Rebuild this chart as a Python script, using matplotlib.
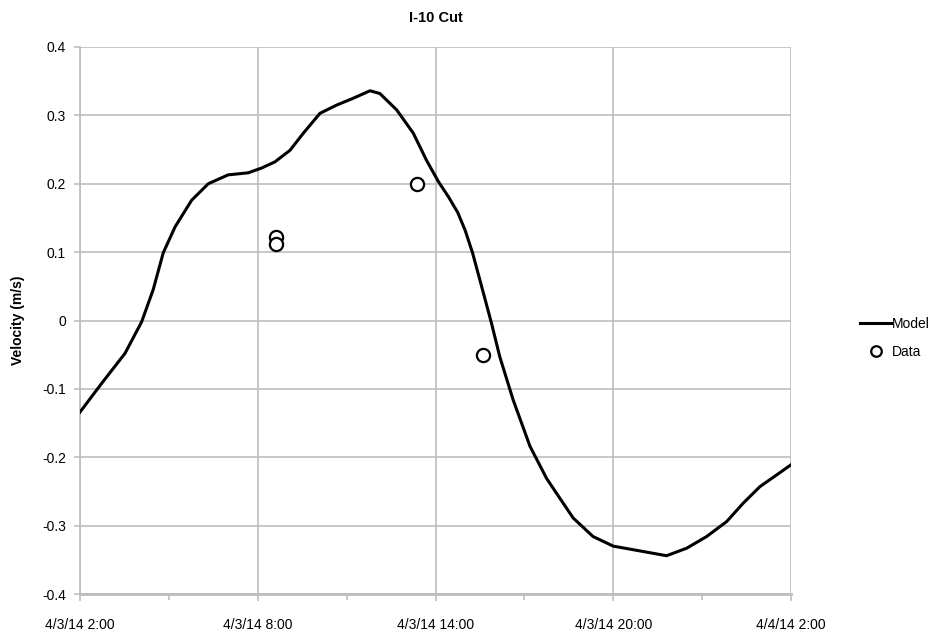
import matplotlib
matplotlib.use("Agg")
import matplotlib.pyplot as plt
import numpy as np
import pandas as pd

plt.rcParams['font.family'] = ['Liberation Sans', 'DejaVu Sans']

# Модель: часы от 4/3/14 2:00 и скорость (м/с)
model_hours = [0.00, 0.73, 1.52, 2.08, 2.47, 2.81, 3.21, 3.77, 4.33, 5.00,
               5.68, 6.13, 6.58, 7.09, 7.54, 8.10, 8.66, 9.22, 9.79, 10.12,
               10.69, 11.25, 11.70, 12.10, 12.45, 12.75, 13.00, 13.25, 13.50, 13.89,
               14.17, 14.62, 15.19, 15.75, 16.09, 16.65, 17.32, 18.00, 18.90, 19.80,
               20.48, 21.15, 21.83, 22.39, 22.95, 23.51, 24.00]
model_vel = [-0.134, -0.092, -0.048, -0.002, 0.045, 0.099, 0.137, 0.176, 0.200, 0.213,
             0.216, 0.223, 0.232, 0.249, 0.274, 0.303, 0.315, 0.325, 0.336, 0.332,
             0.308, 0.274, 0.234, 0.203, 0.180, 0.158, 0.132, 0.099, 0.059, -0.004,
             -0.053, -0.116, -0.184, -0.231, -0.253, -0.289, -0.316, -0.330, -0.337, -0.344,
             -0.333, -0.316, -0.294, -0.267, -0.243, -0.226, -0.211]

# Измерения
data_hours = [6.61, 6.61, 11.36, 13.61]
data_vel = [0.122, 0.112, 0.200, -0.050]

x_ticks = [0, 6, 12, 18, 24]
x_labels = ['4/3/14 2:00', '4/3/14 8:00', '4/3/14 14:00', '4/3/14 20:00', '4/4/14 2:00']
y_ticks = [0.4, 0.3, 0.2, 0.1, 0, -0.1, -0.2, -0.3, -0.4]
y_labels = ['0.4', '0.3', '0.2', '0.1', '0', '-0.1', '-0.2', '-0.3', '-0.4']

start = pd.Timestamp('2014-04-03 02:00')
to_time = lambda h: start + pd.to_timedelta(np.array(h), unit='h')

fig = plt.figure(figsize=(9.33, 6.32), dpi=100)
ax = fig.add_axes([80 / 933, 38 / 632, 711 / 933, 547 / 632])

grid_color = '#bdbdbd'
ax.plot(to_time(model_hours), model_vel, color='black', linewidth=2.2, label='Model',
        solid_joinstyle='round', zorder=3)
ax.plot(to_time(data_hours), data_vel, linestyle='none', marker='o', markersize=9.5,
        markerfacecolor='white', markeredgecolor='black', markeredgewidth=1.6,
        label='Data', zorder=4)

ax.set_xlim(to_time([0])[0], to_time([24])[0])
ax.set_ylim(-0.4, 0.4)
ax.set_xticks(to_time(x_ticks))
ax.set_xticklabels(x_labels, fontsize=10)
ax.set_xticks(to_time([3, 9, 15, 21]), minor=True)
ax.set_yticks(y_ticks)
ax.set_yticklabels(y_labels, fontsize=10)

ax.grid(True, which='major', color=grid_color, linewidth=1.2)
ax.set_axisbelow(True)
for side in ['top', 'right']:
    ax.spines[side].set_visible(False)
ax.spines['left'].set_color(grid_color)
ax.spines['left'].set_linewidth(1.2)
ax.spines['bottom'].set_color(grid_color)
ax.spines['bottom'].set_linewidth(2.0)

ax.tick_params(axis='x', which='major', direction='out', length=5, width=1.2,
               color=grid_color, pad=12)
ax.tick_params(axis='x', which='minor', direction='out', length=4, width=1.2,
               color=grid_color)
ax.tick_params(axis='y', direction='out', length=4, width=1.2, color=grid_color, pad=6)

ax.set_title('I-10 Cut', fontsize=10.5, fontweight='bold', pad=18)
ax.set_ylabel('Velocity (m/s)', fontsize=10, fontweight='bold', labelpad=12)

ax.legend(loc='center left', bbox_to_anchor=(1.08, 0.468), frameon=False, fontsize=10,
          handlelength=2.2, handletextpad=0.05, labelspacing=1.0, markerscale=0.8)

fig.savefig('out.png', dpi=100)
